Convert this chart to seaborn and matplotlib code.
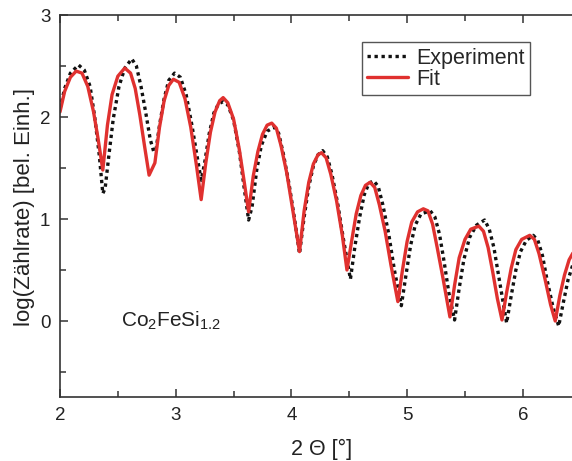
import numpy as np
import pandas as pd
import seaborn as sns
import matplotlib
matplotlib.use("Agg")
import matplotlib.pyplot as plt
from matplotlib.ticker import MultipleLocator

# ===============================
# Data
# ===============================
exp_x = [2.00, 2.04, 2.09, 2.16, 2.21, 2.26, 2.30, 2.34, 2.37, 2.39, 2.42, 2.46, 2.51, 2.56,
         2.62, 2.66, 2.70, 2.74, 2.78, 2.81, 2.83, 2.86, 2.90, 2.94, 2.99, 3.04, 3.09, 3.14,
         3.19, 3.22, 3.25, 3.29, 3.33, 3.37, 3.41, 3.45, 3.50, 3.55, 3.59, 3.63, 3.66, 3.70,
         3.74, 3.79, 3.85, 3.89, 3.93, 3.98, 4.03, 4.07, 4.11, 4.15, 4.19, 4.23, 4.27, 4.31,
         4.35, 4.40, 4.45, 4.51, 4.55, 4.59, 4.63, 4.67, 4.71, 4.75, 4.79, 4.84, 4.89, 4.95,
         4.99, 5.03, 5.07, 5.12, 5.20, 5.24, 5.28, 5.32, 5.36, 5.41, 5.45, 5.49, 5.54, 5.60,
         5.67, 5.71, 5.75, 5.79, 5.83, 5.86, 5.90, 5.94, 5.98, 6.03, 6.09, 6.13, 6.17, 6.21,
         6.26, 6.31, 6.35, 6.39, 6.44]
exp_y = [2.08, 2.28, 2.43, 2.51, 2.46, 2.30, 2.00, 1.62, 1.25, 1.30, 1.60, 1.98, 2.30, 2.48,
         2.57, 2.50, 2.30, 2.05, 1.78, 1.66, 1.68, 1.92, 2.18, 2.36, 2.43, 2.39, 2.22, 1.92,
         1.58, 1.38, 1.55, 1.84, 2.04, 2.13, 2.15, 2.12, 1.97, 1.66, 1.32, 0.99, 1.12, 1.48,
         1.72, 1.86, 1.90, 1.84, 1.64, 1.34, 0.98, 0.66, 1.02, 1.32, 1.52, 1.63, 1.67, 1.61,
         1.44, 1.15, 0.80, 0.41, 0.74, 1.02, 1.24, 1.35, 1.375, 1.32, 1.14, 0.86, 0.50, 0.15,
         0.45, 0.74, 0.94, 1.05, 1.08, 1.02, 0.85, 0.58, 0.28, 0.01, 0.32, 0.60, 0.82, 0.94,
         0.99, 0.90, 0.72, 0.45, 0.18, -0.02, 0.25, 0.50, 0.68, 0.79, 0.84, 0.79, 0.64, 0.40,
         0.14, -0.05, 0.18, 0.40, 0.58]

fit_x = [2.00, 2.04, 2.09, 2.14, 2.19, 2.24, 2.29, 2.33, 2.37, 2.41, 2.45, 2.50, 2.56, 2.61,
         2.65, 2.69, 2.73, 2.77, 2.82, 2.86, 2.90, 2.94, 2.98, 3.03, 3.08, 3.13, 3.18, 3.22,
         3.26, 3.30, 3.34, 3.38, 3.41, 3.45, 3.50, 3.55, 3.59, 3.63, 3.67, 3.71, 3.75, 3.79,
         3.83, 3.87, 3.91, 3.96, 4.01, 4.07, 4.11, 4.15, 4.19, 4.23, 4.26, 4.30, 4.34, 4.39,
         4.44, 4.48, 4.52, 4.56, 4.60, 4.64, 4.68, 4.72, 4.76, 4.81, 4.86, 4.92, 4.96, 5.00,
         5.04, 5.09, 5.14, 5.18, 5.22, 5.26, 5.31, 5.37, 5.41, 5.45, 5.50, 5.55, 5.62, 5.66,
         5.70, 5.74, 5.78, 5.82, 5.86, 5.90, 5.94, 5.99, 6.06, 6.10, 6.14, 6.19, 6.24, 6.28,
         6.32, 6.36, 6.40, 6.44]
fit_y = [2.05, 2.25, 2.39, 2.45, 2.43, 2.30, 2.05, 1.78, 1.48, 1.92, 2.22, 2.40, 2.48, 2.43,
         2.28, 2.02, 1.72, 1.43, 1.55, 1.90, 2.16, 2.31, 2.37, 2.34, 2.18, 1.90, 1.52, 1.19,
         1.55, 1.85, 2.05, 2.16, 2.19, 2.14, 1.98, 1.68, 1.38, 1.07, 1.42, 1.66, 1.83, 1.92,
         1.94, 1.89, 1.72, 1.45, 1.10, 0.68, 1.08, 1.36, 1.54, 1.63, 1.65, 1.60, 1.44, 1.18,
         0.84, 0.50, 0.78, 1.05, 1.23, 1.33, 1.36, 1.31, 1.14, 0.88, 0.55, 0.19, 0.50, 0.78,
         0.97, 1.07, 1.10, 1.08, 0.95, 0.72, 0.42, 0.04, 0.35, 0.62, 0.80, 0.90, 0.93, 0.88,
         0.72, 0.48, 0.22, 0.01, 0.28, 0.52, 0.70, 0.80, 0.84, 0.80, 0.66, 0.42, 0.16, 0.00,
         0.25, 0.45, 0.60, 0.68]

X_TICKS = [2, 3, 4, 5, 6]
Y_TICKS = [0, 1, 2, 3]

exp_df = pd.DataFrame({"x": exp_x, "y": exp_y})
fit_df = pd.DataFrame({"x": fit_x, "y": fit_y})

# ===============================
# Style
# ===============================
sns.set_style("ticks")
plt.rcParams["font.family"] = ["Liberation Sans", "DejaVu Sans"]
plt.rcParams["mathtext.fontset"] = "custom"
plt.rcParams["mathtext.rm"] = "Liberation Sans"

TEXT = "#222222"
AXC = "#333333"

fig = plt.figure(figsize=(5.72, 4.61), dpi=100)
ax = fig.add_axes([60 / 572, 1 - 397 / 461, 1 - 60 / 572, (397 - 15) / 461])

sns.lineplot(data=exp_df, x="x", y="y", ax=ax, color="#111111", lw=2.4,
             linestyle=(0, (1, 1.1)), label="Experiment", sort=False)
sns.lineplot(data=fit_df, x="x", y="y", ax=ax, color="#e0312f", lw=2.4,
             label="Fit", sort=False)

ax.set_xlim(2, 6.425)
ax.set_ylim(-0.745, 3)
ax.set_xticks(X_TICKS)
ax.set_yticks(Y_TICKS)
ax.xaxis.set_minor_locator(MultipleLocator(0.5))
ax.yaxis.set_minor_locator(MultipleLocator(0.5))
ax.tick_params(which="both", direction="in", top=True, right=False,
               color=AXC, labelsize=13.5, labelcolor=TEXT)
ax.tick_params(which="major", length=6, width=1.1, pad=7)
ax.tick_params(which="minor", length=4, width=1.1)

for side in ["left", "bottom", "top"]:
    ax.spines[side].set_visible(True)
    ax.spines[side].set_color(AXC)
    ax.spines[side].set_linewidth(1.2)
ax.spines["right"].set_visible(False)

ax.set_xlabel("2 \u0398 [\u00b0]", fontsize=15.5, color=TEXT, va="top")
ax.xaxis.set_label_coords(0.51, -0.11)
ax.set_ylabel("log(Z\u00e4hlrate) [bel. Einh.]", fontsize=16, color=TEXT, va="center")
ax.yaxis.set_label_coords(-0.069, 0.497)

ax.text(2.53, 0.0, r"Co$_\mathregular{2}$FeSi$_\mathregular{1.2}$", fontsize=15,
        color=TEXT, va="center", ha="left")

leg = ax.legend(loc="upper left", bbox_to_anchor=(0.59, 0.929), fontsize=15.5,
                frameon=True, fancybox=False, framealpha=1, edgecolor="#555555",
                handlelength=1.9, handletextpad=0.37, borderpad=0.25, labelspacing=0.02,
                borderaxespad=0)
leg.get_frame().set_linewidth(1.0)

fig.savefig("out.png", dpi=100)
